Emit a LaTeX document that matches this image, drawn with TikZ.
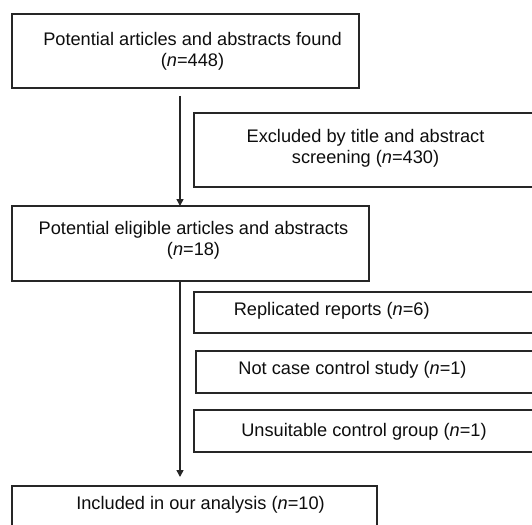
\documentclass[tikz,border=0pt]{standalone}
\usepackage{fontspec}
\setmainfont{Liberation Sans}
\usetikzlibrary{arrows.meta}
\begin{document}
\begin{tikzpicture}[x=1pt,y=-1pt,
  box/.style={draw=black!85, line width=1.9pt, rectangle, inner sep=0pt, outer sep=0pt},
  txt/.style={align=center, inner sep=0pt, font=\fontsize{18.2}{21}\selectfont, text=black!95},
  arr/.style={draw=black!85, line width=1.6pt, -{Triangle[length=7pt,width=7pt]}}]
\useasboundingbox (0,0) rectangle (532,524);
\clip (0,0) rectangle (532,524);
% boxes
\node[box, minimum width=347pt, minimum height=74pt] (b1) at (185.5,51) {};
\node[box, minimum width=351pt, minimum height=74pt] (bex) at (369.5,150) {};
\node[box, minimum width=357pt, minimum height=75pt] (b2) at (190.5,243.5) {};
\node[box, minimum width=351pt, minimum height=41pt] (r1) at (369.5,312.5) {};
\node[box, minimum width=349pt, minimum height=42pt] (r2) at (370.5,372) {};
\node[box, minimum width=351pt, minimum height=42pt] (r3) at (369.5,431) {};
\node[box, minimum width=365pt, minimum height=54pt] (b3) at (194.5,513) {};
% texts
\node[txt] (t1) at (192.5,51) {Potential articles and abstracts found\\(\textit{n}=448)};
\node[txt] (t2) at (365.5,148) {Excluded by title and abstract\\screening (\textit{n}=430)};
\node[txt] (t3) at (193.5,240.5) {Potential eligible articles and abstracts\\(\textit{n}=18)};
\node[txt] (t4) at (331.7,310.5) {Replicated reports (\textit{n}=6)};
\node[txt] (t5) at (352.5,370) {Not case control study (\textit{n}=1)};
\node[txt] (t6) at (364,431.5) {Unsuitable control group (\textit{n}=1)};
\node[txt] (t7) at (200.5,504.5) {Included in our analysis (\textit{n}=10)};
% arrows
\coordinate (ax) at (180,0);
\draw[arr, shorten <=8pt] (b1.south -| ax) -- (b2.north -| ax);
\draw[arr, shorten <=1pt, shorten >=9pt] (b2.south -| ax) -- (b3.north -| ax);
\end{tikzpicture}
\end{document}
